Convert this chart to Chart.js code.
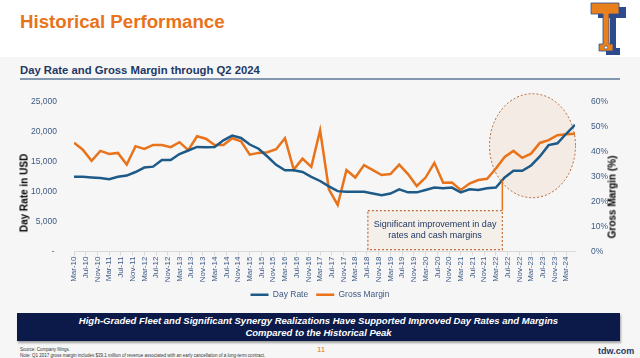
<!DOCTYPE html>
<html>
<head>
<meta charset="utf-8">
<script src="https://cdn.jsdelivr.net/npm/chart.js@4.4.1/dist/chart.umd.min.js"></script>
<style>
  body { margin: 0; width: 640px; height: 358px; background: #f6f6f6; font-family: "Liberation Sans", Arial, sans-serif; position: relative; overflow: hidden; }
  .abs { position: absolute; }
  #header { left: 0; top: 0; width: 640px; height: 57px; background: #ffffff; }
  #title { left: 20px; top: 11px; font-size: 18.7px; font-weight: bold; color: #e8731a; }
  #subtitle { left: 20px; top: 64px; font-size: 11.3px; font-weight: bold; color: #1f3864; }
  #rule { left: 20px; top: 78px; width: 600px; height: 2px; background: #8497b0; }
  #chartBox { left: 0; top: 88px; width: 640px; height: 223px; }
  .axisTitle { font-size: 10px; font-weight: bold; color: #000; white-space: nowrap; transform: translate(-50%, -50%) rotate(-90deg); }
  #banner { left: 17px; top: 313px; width: 603px; height: 28px; background: #0b1a48; box-shadow: 1px 2px 2px rgba(0,0,0,0.35); color: #fff; font-size: 9.5px; font-weight: bold; font-style: italic; text-align: center; line-height: 12px; padding-top: 2px; box-sizing: border-box; }
  #foot { left: 20px; top: 347px; font-size: 4.5px; color: #333; line-height: 5.5px; }
  #page { left: 317px; top: 345px; font-size: 8px; color: #e8731a; }
  #site { left: 598px; top: 346px; font-size: 9px; font-weight: bold; color: #1f3864; }
</style>
</head>
<body>
<div id="header" class="abs"></div>
<div id="title" class="abs">Historical Performance</div>
<svg class="abs" style="left:588px;top:1px" width="46" height="54" viewBox="0 0 46 54">
  <path d="M6 4 H34 V15 H24 V45 H28 V52 H14 V45 H18 V15 H6 Z" fill="#2c4b8e" transform="translate(4,2)"/>
  <path d="M3 2 H31 V13 H21 V43 H25 V50 H11 V43 H15 V13 H3 Z" fill="#e8801e" stroke="#2c4b8e" stroke-width="0.8"/>
  <circle cx="18" cy="46.5" r="1.6" fill="#fff" stroke="#2c4b8e" stroke-width="0.6"/>
</svg>
<div id="subtitle" class="abs">Day Rate and Gross Margin through Q2 2024</div>
<div id="rule" class="abs"></div>
<div id="chartBox" class="abs"><canvas id="chart"></canvas></div>
<div class="abs axisTitle" style="left:24px;top:193px">Day Rate in USD</div>
<div class="abs axisTitle" style="left:612px;top:197px">Gross Margin (%)</div>
<div id="banner" class="abs">High-Graded Fleet and Significant Synergy Realizations Have Supported Improved Day Rates and Margins<br>Compared to the Historical Peak</div>
<div id="foot" class="abs">Source: Company filings.<br>Note: Q1 2017 gross margin includes $39.1 million of revenue associated with an early cancellation of a long-term contract.</div>
<div id="page" class="abs">11</div>
<div id="site" class="abs">tdw.com</div>

<script>
// Quarterly data points, Mar-10 through Jun-24
var quarters = [
    "Mar-10", "Jun-10", "Sep-10", "Dec-10", "Mar-11", "Jun-11", "Sep-11", "Dec-11",
    "Mar-12", "Jun-12", "Sep-12", "Dec-12", "Mar-13", "Jun-13", "Sep-13", "Dec-13",
    "Mar-14", "Jun-14", "Sep-14", "Dec-14", "Mar-15", "Jun-15", "Sep-15", "Dec-15",
    "Mar-16", "Jun-16", "Sep-16", "Dec-16", "Mar-17", "Jun-17", "Sep-17", "Dec-17",
    "Mar-18", "Jun-18", "Sep-18", "Dec-18", "Mar-19", "Jun-19", "Sep-19", "Dec-19",
    "Mar-20", "Jun-20", "Sep-20", "Dec-20", "Mar-21", "Jun-21", "Sep-21", "Dec-21",
    "Mar-22", "Jun-22", "Sep-22", "Dec-22", "Mar-23", "Jun-23", "Sep-23", "Dec-23",
    "Mar-24", "Jun-24"
];

var dayRate = [
    12500, 12500, 12400, 12300, 12100, 12500, 12700, 13300, 14050, 14200,
    15300, 15300, 16300, 16900, 17500, 17450, 17500, 18600, 19400, 19000,
    17900, 17200, 15900, 14500, 13600, 13600, 13300, 12500, 11800, 10900,
    10100, 10000, 10000, 10000, 9700, 9400, 9700, 10400, 9900, 9900,
    10300, 10700, 10600, 10700, 9900, 10400, 10300, 10600, 10700, 12400,
    13500, 13500, 14400, 15900, 17800, 18100, 19700, 21200
];

var grossMargin = [
    43.7, 40.9, 36.4, 40.4, 39.2, 39.6, 34.9, 42.3, 41.2, 42.8,
    42.8, 41.9, 43.9, 40.7, 46.3, 45.3, 42.8, 42.8, 45.5, 44.3,
    38.9, 39.6, 39.9, 41.1, 45.5, 32.9, 37.3, 34.0, 48.7, 25.0,
    18.7, 32.7, 29.7, 34.7, 32.7, 30.7, 31.1, 34.9, 31.1, 26.3,
    29.7, 35.6, 27.6, 27.7, 24.7, 27.3, 28.7, 29.2, 33.3, 38.0,
    40.4, 37.6, 39.3, 43.6, 44.7, 46.7, 47.1, 47.3
];

// x axis labels every 4 months
var tickLabels = [
    "Mar-10", "Jul-10", "Nov-10", "Mar-11", "Jul-11", "Nov-11", "Mar-12", "Jul-12", "Nov-12",
    "Mar-13", "Jul-13", "Nov-13", "Mar-14", "Jul-14", "Nov-14", "Mar-15", "Jul-15", "Nov-15",
    "Mar-16", "Jul-16", "Nov-16", "Mar-17", "Jul-17", "Nov-17", "Mar-18", "Jul-18", "Nov-18",
    "Mar-19", "Jul-19", "Nov-19", "Mar-20", "Jul-20", "Nov-20", "Mar-21", "Jul-21", "Nov-21",
    "Mar-22", "Jul-22", "Nov-22", "Mar-23", "Jul-23", "Nov-23", "Mar-24"
];

var noteLines = ["Significant improvement in day", "rates and cash margins"];

var BLUE = "#1d5a88";
var ORANGE = "#e8731a";
var TICK = "#3e5a84";

// months since Mar-10 for a label like "Sep-15"
function monthIndex(label) {
    var names = { Jan: 0, Feb: 1, Mar: 2, Apr: 3, May: 4, Jun: 5, Jul: 6, Aug: 7, Sep: 8, Oct: 9, Nov: 10, Dec: 11 };
    var parts = label.split("-");
    return (2000 + parseInt(parts[1], 10) - 2010) * 12 + names[parts[0]] - 2;
}

function toPoints(values) {
    return values.map(function(v, i) {
        return { x: monthIndex(quarters[i]), y: v };
    });
}

// ellipse behind the lines, callout box on top
var calloutPlugin = {
    id: "callout",
    beforeDatasetsDraw: function(chart) {
        var ctx = chart.ctx;
        var x = chart.scales.x, y = chart.scales.y;
        var cx = x.getPixelForValue(156.5), cy = y.getPixelForValue(17700);
        ctx.save();
        ctx.beginPath();
        ctx.ellipse(cx, cy, 43, 52, 0, 0, Math.PI * 2);
        ctx.fillStyle = "rgba(236, 205, 175, 0.25)";
        ctx.fill();
        ctx.setLineDash([2, 2]);
        ctx.strokeStyle = "#b5652e";
        ctx.lineWidth = 1;
        ctx.stroke();
        ctx.restore();
    },
    afterDatasetsDraw: function(chart) {
        var ctx = chart.ctx;
        var x = chart.scales.x, y = chart.scales.y;
        var left = x.getPixelForValue(100.3), right = x.getPixelForValue(146.2);
        var top = y.getPixelForValue(6850), bottom = y.getPixelForValue(300);
        ctx.save();
        ctx.fillStyle = "#f5efe9";
        ctx.fillRect(left, top, right - left, bottom - top);
        ctx.setLineDash([2, 2]);
        ctx.strokeStyle = "#c0703a";
        ctx.lineWidth = 1.2;
        ctx.strokeRect(left, top, right - left, bottom - top);
        ctx.setLineDash([]);
        ctx.strokeStyle = ORANGE;
        ctx.lineWidth = 1.5;
        ctx.beginPath();
        ctx.moveTo(right, top);
        ctx.lineTo(right, y.getPixelForValue(11900));
        ctx.stroke();
        ctx.fillStyle = "#1f3864";
        ctx.font = "9px 'Liberation Sans', Arial, sans-serif";
        ctx.textAlign = "center";
        ctx.textBaseline = "middle";
        ctx.fillText(noteLines[0], (left + right) / 2, top + 14);
        ctx.fillText(noteLines[1], (left + right) / 2, top + 25);
        ctx.restore();
    }
};

Chart.defaults.font.family = "'Liberation Sans', Arial, sans-serif";

new Chart(document.getElementById("chart"), {
    type: "line",
    data: {
        datasets: [{
            label: "Day Rate",
            data: toPoints(dayRate),
            yAxisID: "y",
            borderColor: BLUE,
            backgroundColor: BLUE,
            borderWidth: 2.5,
            pointRadius: 0,
            tension: 0
        }, {
            label: "Gross Margin",
            data: toPoints(grossMargin),
            yAxisID: "y2",
            borderColor: ORANGE,
            backgroundColor: ORANGE,
            borderWidth: 2.5,
            pointRadius: 0,
            tension: 0
        }]
    },
    options: {
        responsive: true,
        maintainAspectRatio: false,
        animation: false,
        layout: { padding: { top: 10, bottom: 2 } },
        plugins: {
            tooltip: { enabled: false },
            legend: {
                position: "bottom",
                labels: {
                    usePointStyle: true,
                    pointStyle: "line",
                    pointStyleWidth: 18,
                    color: TICK,
                    font: { size: 8.5 },
                    padding: 8
                }
            }
        },
        scales: {
            x: {
                type: "linear",
                min: 0,
                max: 171,
                grid: { drawOnChartArea: false, color: "#d9d9d9", tickLength: 4 },
                border: { color: "#d9d9d9" },
                ticks: {
                    stepSize: 4,
                    includeBounds: false,
                    autoSkip: false,
                    minRotation: 90,
                    maxRotation: 90,
                    padding: 1,
                    color: TICK,
                    font: { size: 8 },
                    callback: function(v) { return tickLabels[v / 4]; }
                },
                afterFit: function(scale) { scale.height = 31; }
            },
            y: {
                position: "left",
                min: 0,
                max: 25000,
                grid: { display: false },
                border: { display: false },
                ticks: {
                    stepSize: 5000,
                    padding: 9,
                    color: TICK,
                    font: { size: 8.5 },
                    callback: function(v) { return v === 0 ? "- " : v.toLocaleString("en-US"); }
                },
                afterFit: function(scale) { scale.width = 74; }
            },
            y2: {
                position: "right",
                min: 0,
                max: 60,
                grid: { display: false },
                border: { display: false },
                ticks: {
                    stepSize: 10,
                    padding: 8,
                    color: TICK,
                    font: { size: 8.5 },
                    callback: function(v) { return v + "%"; }
                },
                afterFit: function(scale) { scale.width = 65; }
            }
        }
    },
    plugins: [calloutPlugin]
});
</script>
</body>
</html>
